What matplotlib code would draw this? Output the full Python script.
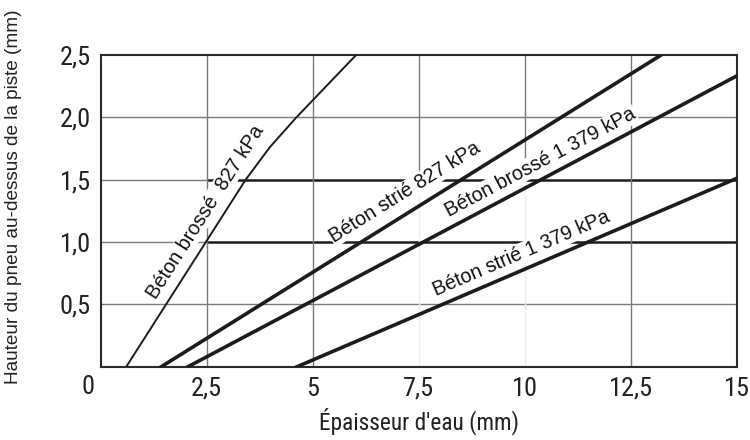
import numpy as np
import matplotlib
matplotlib.use("Agg")
import matplotlib.pyplot as plt
import matplotlib.transforms as mtransforms

# --- courbes (épaisseur d'eau en mm -> hauteur du pneu en mm) ---
brosse_827_x = [0.6, 3.42, 3.99, 4.62, 6.03]
brosse_827_y = [0.0, 1.5, 1.76, 2.0, 2.5]
strie_827_x = [1.42, 13.23]
strie_827_y = [0.0, 2.5]
brosse_1379_x = [2.05, 15.0]
brosse_1379_y = [0.0, 2.33]
strie_1379_x = [4.62, 15.0]
strie_1379_y = [0.0, 1.51]

curve_labels = ["Béton brossé  827 kPa", "Béton strié 827 kPa",
                "Béton brossé 1 379 kPa", "Béton strié 1 379 kPa"]
label_pos = [(2.47, 1.24), (7.18, 1.40), (10.37, 1.64), (9.93, 0.91)]

xticks = [2.5, 5, 7.5, 10, 12.5, 15]
xtick_labels = ["2,5", "5", "7,5", "10", "12,5", "15"]
yticks = [0.5, 1.0, 1.5, 2.0, 2.5]
ytick_labels = ["0,5", "1,0", "1,5", "2,0", "2,5"]

NARROW = ["Roboto Condensed", "Liberation Sans"]
REG = ["Liberation Sans", "DejaVu Sans"]
GRAY = "#7a7a7a"
DARK = "#1c1c1c"
TXT = "#222222"

fig = plt.figure(figsize=(7.5, 4.4), dpi=100)
ax = fig.add_axes([0.1343, 0.1661, 0.8480, 0.7096])
ax.set_xlim(0, 15)
ax.set_ylim(0, 2.5)

# quadrillage
for y in [0.5, 2.0]:
    ax.hlines(y, 0, 15, color=GRAY, lw=1.0, zorder=1)
for y in [1.0, 1.5]:
    ax.hlines(y, 0, 2.5, color=GRAY, lw=1.0, zorder=1)
    ax.hlines(y, 2.5, 15, color=DARK, lw=1.8, zorder=1)
for x in [2.5, 5, 12.5]:
    ax.vlines(x, 0, 2.5, color=GRAY, lw=1.0, zorder=1)
for x in [7.5, 10]:
    ax.vlines(x, 1.5, 2.5, color=GRAY, lw=1.0, zorder=1)
    ax.vlines(x, 0, 1.5, color="#ececec", lw=1.0, zorder=1)

ax.plot(brosse_827_x, brosse_827_y, color=DARK, lw=1.4, zorder=4)
ax.plot(strie_827_x, strie_827_y, color=DARK, lw=2.6, zorder=4)
ax.plot(brosse_1379_x, brosse_1379_y, color=DARK, lw=2.6, zorder=4)
ax.plot(strie_1379_x, strie_1379_y, color=DARK, lw=2.6, zorder=4)

# angle écran de chaque courbe pour orienter les étiquettes
fig.canvas.draw()
segs = [((brosse_827_x[0], brosse_827_y[0]), (brosse_827_x[1], brosse_827_y[1])),
        ((strie_827_x[0], strie_827_y[0]), (strie_827_x[1], strie_827_y[1])),
        ((brosse_1379_x[0], brosse_1379_y[0]), (brosse_1379_x[1], brosse_1379_y[1])),
        ((strie_1379_x[0], strie_1379_y[0]), (strie_1379_x[1], strie_1379_y[1]))]
for txt, (lx, ly), (p0, p1) in zip(curve_labels, label_pos, segs):
    a = ax.transData.transform(p0)
    b = ax.transData.transform(p1)
    ang = np.degrees(np.arctan2(b[1] - a[1], b[0] - a[0]))
    ax.text(lx, ly, txt, rotation=ang, rotation_mode="anchor",
            ha="center", va="center", fontsize=14.3, family=REG, color="#111111",
            bbox=dict(boxstyle="square,pad=0.05", fc="white", ec="none"),
            zorder=3)

for s in ax.spines.values():
    s.set_color("#2a2a2a")
    s.set_linewidth(1.5)

ax.set_xticks(xticks)
ax.set_xticklabels(xtick_labels, family=NARROW, fontsize=19)
ax.set_yticks(yticks)
ax.set_yticklabels(ytick_labels, family=NARROW, fontsize=19)
ax.tick_params(length=0, pad=7, colors=TXT)

# zéro commun aux deux axes
off = mtransforms.offset_copy(ax.transData, fig=fig, x=-13, y=-8, units="dots")
ax.text(0, 0, "0", transform=off, ha="center", va="top",
        family=NARROW, fontsize=19, color=TXT)

ax.set_xlabel("Épaisseur d'eau (mm)", family=NARROW, fontsize=16.8,
              color=TXT, labelpad=5)
ax.set_ylabel("Hauteur du pneu au-dessus de la piste (mm)", family=REG,
              fontsize=13.7, color=TXT)
ax.yaxis.set_label_coords(-0.124, 0.544)

fig.savefig("out.png", dpi=100)
